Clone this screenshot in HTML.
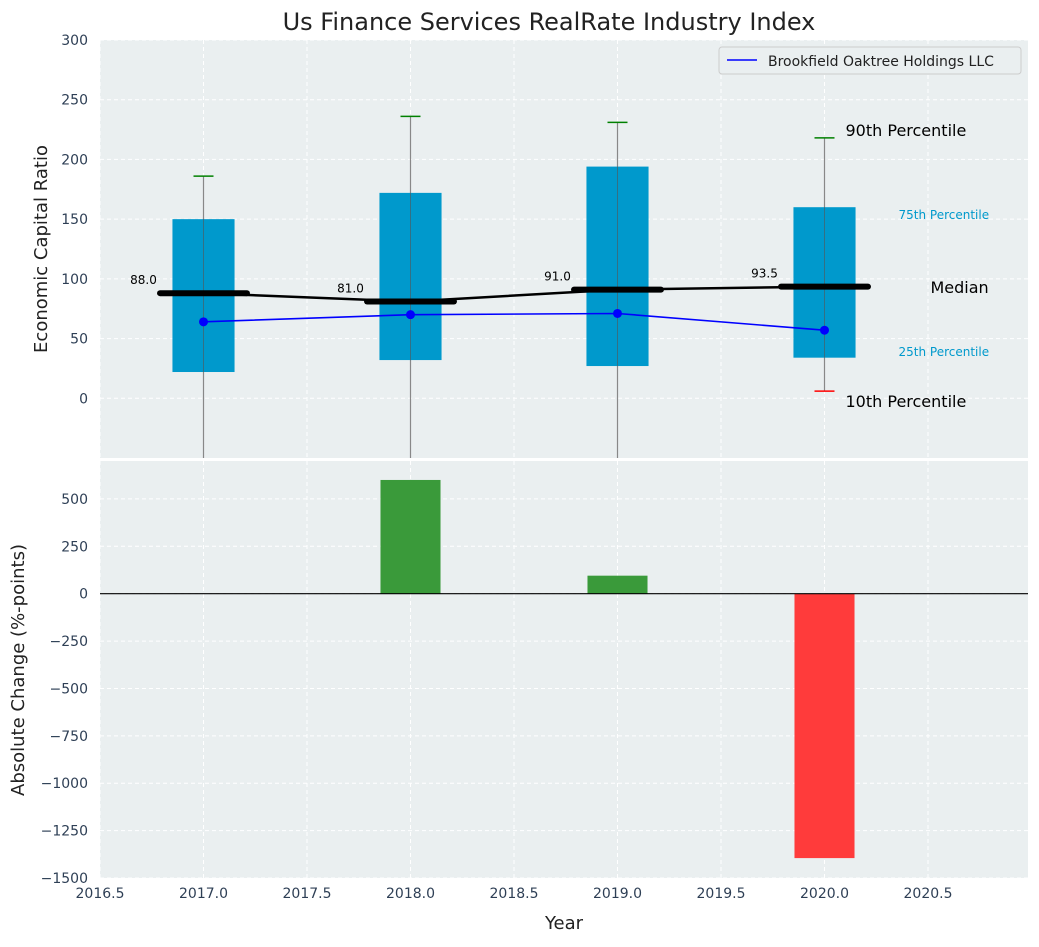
<!DOCTYPE html>
<html><head><meta charset="utf-8"><style>
body{margin:0;background:#fff;font-family:"Liberation Sans","DejaVu Sans",sans-serif}
svg text{font-family:"DejaVu Sans","Liberation Sans",sans-serif}
</style></head><body>
<svg id="c" width="1039" height="942" xmlns="http://www.w3.org/2000/svg"></svg>
<script>
const years=[2017,2018,2019,2020];
const q1=[22,32,27,34];
const q3=[150,172,194,160];
const medians=[88,81,91,93.5];
const whiskHi=[186,236,231,218];
const whiskLo=[-100,-100,-100,6];
const company=[64,70,71,57];
const changes=[0,600,95,-1395];
const xTicks=[2016.5,2017,2017.5,2018,2018.5,2019,2019.5,2020,2020.5];
const yTopTicks=[0,50,100,150,200,250,300];
const yBotTicks=[500,250,0,-250,-500,-750,-1000,-1250,-1500];

const NS="http://www.w3.org/2000/svg";
const svg=document.getElementById('c');
function el(t,a,p){const e=document.createElementNS(NS,t);for(const k in a)e.setAttribute(k,a[k]);(p||svg).appendChild(e);return e;}
const L=100,R=1028;
const X=v=>L+(v-2016.5)*207;
const T0=40,T1=458,B0=461,B1=878;
const YT=v=>T0+(300-v)/350*(T1-T0);
const YB=v=>B0+(700-v)/2200*(B1-B0);
const clipT=el('clipPath',{id:'ct'});el('rect',{x:L,y:T0,width:R-L,height:T1-T0},clipT);
let bg=el('rect',{x:L,y:T0,width:R-L,height:T1-T0,fill:'#eaeff0'});

let bg2=el('rect',{x:L,y:B0,width:R-L,height:B1-B0,fill:'#eaeff0'});

xTicks.forEach(t=>{
 el('line',{x1:X(t),x2:X(t),y1:T0,y2:T1,stroke:'#fff','stroke-dasharray':'4,3','stroke-width':1});
 el('line',{x1:X(t),x2:X(t),y1:B0,y2:B1,stroke:'#fff','stroke-dasharray':'4,3','stroke-width':1});
 let tx=el('text',{x:X(t),y:B1+20,'text-anchor':'middle','font-size':14,fill:'#2e3f55'});tx.textContent=t.toFixed(1);
 
});
yTopTicks.forEach(t=>{
 el('line',{x1:L,x2:R,y1:YT(t),y2:YT(t),stroke:'#fff','stroke-dasharray':'4,3'});
 let tx=el('text',{x:L-12,y:YT(t)+5,'text-anchor':'end','font-size':14,fill:'#2e3f55'});tx.textContent=t;
 
});
yBotTicks.forEach(t=>{
 el('line',{x1:L,x2:R,y1:YB(t),y2:YB(t),stroke:'#fff','stroke-dasharray':'4,3'});
 let tx=el('text',{x:L-12,y:YB(t)+5,'text-anchor':'end','font-size':14,fill:'#2e3f55'});tx.textContent=t.toString().replace('-','−');
 
});
const g=el('g',{'clip-path':'url(#ct)'});
years.forEach((y,i)=>{
 const x=X(y),hw=X(y+0.15)-x;
 let w=el('line',{x1:x,x2:x,y1:YT(whiskLo[i]),y2:YT(whiskHi[i]),stroke:'#888','stroke-width':1.2},g);
 
 let b=el('rect',{x:x-hw,y:YT(q3[i]),width:2*hw,height:YT(q1[i])-YT(q3[i]),fill:'#0099cc'},g);
 
 el('line',{x1:x,x2:x,y1:YT(q3[i]),y2:YT(q1[i]),stroke:'#555','stroke-width':1,opacity:0.6},g);
 let cap=el('line',{x1:x-10,x2:x+10,y1:YT(whiskHi[i]),y2:YT(whiskHi[i]),stroke:'green','stroke-width':1.5},g);
 
 if(whiskLo[i]>-50){let c2=el('line',{x1:x-10,x2:x+10,y1:YT(whiskLo[i]),y2:YT(whiskLo[i]),stroke:'red','stroke-width':1.5},g);
 }
 const mw=X(y+0.21)-x;
 let m=el('line',{x1:x-mw,x2:x+mw,y1:YT(medians[i]),y2:YT(medians[i]),stroke:'#000','stroke-width':6,'stroke-linecap':'round'},g);
 
 let tl=el('text',{x:x-60,y:YT(medians[i])-9,'text-anchor':'middle','font-size':12});tl.textContent=medians[i].toFixed(1);
 
});
el('polyline',{points:years.map((y,i)=>X(y)+','+YT(medians[i])).join(' '),fill:'none',stroke:'#000','stroke-width':2.5},g);
let cl=el('polyline',{points:years.map((y,i)=>X(y)+','+YT(company[i])).join(' '),fill:'none',stroke:'blue','stroke-width':1.6},g);

years.forEach((y,i)=>{let p=el('circle',{cx:X(y),cy:YT(company[i]),r:4.5,fill:'blue'},g);
 });
const li=years.length-1,lx=X(years[li]);
[[ '90th Percentile',lx+21,136,16,'#000'],['75th Percentile',lx+74,219,12,'#0099cc'],
 ['Median',lx+106,293,16,'#000'],['25th Percentile',lx+74,356,12,'#0099cc'],
 ['10th Percentile',lx+21,407,16,'#000']].forEach(a=>{
 let t=el('text',{x:a[1],y:a[2],'font-size':a[3],fill:a[4]});t.textContent=a[0];
 });
let lg=el('g',{});
el('rect',{x:719,y:47,width:302,height:27,rx:3,fill:'#eaeff0',stroke:'#ccc'},lg);
el('line',{x1:727,x2:757,y1:60,y2:60,stroke:'blue','stroke-width':1.6},lg);
let lt=el('text',{x:768,y:66,'font-size':14,fill:'#222'},lg);lt.textContent='Brookfield Oaktree Holdings LLC';
years.forEach((y,i)=>{const v=changes[i];if(!v)return;const hw=X(y+0.145)-X(y);
 let r=el('rect',{x:X(y)-hw,y:Math.min(YB(v),YB(0)),width:2*hw,height:Math.abs(YB(v)-YB(0)),fill:v>0?'#3a9a3a':'#ff3b3b'});
 });
el('line',{x1:L,x2:R,y1:YB(0),y2:YB(0),stroke:'#000','stroke-width':1.2});
let tt=el('text',{x:549,y:30,'text-anchor':'middle','font-size':24,fill:'#222'});tt.textContent='Us Finance Services RealRate Industry Index';

let ya=el('text',{x:47,y:249,'text-anchor':'middle','font-size':18,fill:'#222',transform:'rotate(-90 47 249)'});ya.textContent='Economic Capital Ratio';

let yb=el('text',{x:24,y:670,'text-anchor':'middle','font-size':18,fill:'#222',transform:'rotate(-90 24 670)'});yb.textContent='Absolute Change (%-points)';

let xa=el('text',{x:564,y:929,'text-anchor':'middle','font-size':18,fill:'#222'});xa.textContent='Year';

</script>
</body></html>
